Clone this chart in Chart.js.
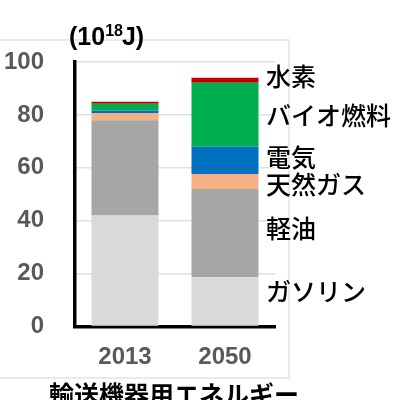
<!DOCTYPE html>
<html>
<head>
<meta charset="utf-8">
<script src="https://cdn.jsdelivr.net/npm/chart.js@4"></script>
<style>
  body { margin: 0; background: #fff; }
  #wrap { width: 395px; height: 400px; }
</style>
</head>
<body>
<div id="wrap"><canvas id="energyChart" width="395" height="400"></canvas></div>
<script>
// 輸送機器用エネルギー (10^18 J)
const years = ['2013', '2050'];
const seriesNames = ['ガソリン', '軽油', '天然ガス', '電気', 'バイオ燃料', '水素'];
const gasoline  = [42.0, 18.6];
const diesel    = [36.0, 33.4];
const naturalGas = [2.7, 5.7];
const electric  = [1.0, 10.3];
const biofuel   = [2.5, 24.2];
const hydrogen  = [0.8, 1.8];
const yTicks = [0, 20, 40, 60, 80, 100];

const colors = ['#d9d9d9', '#a6a6a6', '#f4b183', '#0070c0', '#00b050', '#c00000'];
const values = [gasoline, diesel, naturalGas, electric, biofuel, hydrogen];

const jpFont = '"Noto Sans CJK JP", sans-serif';
const numFont = '"Liberation Sans", Arial, sans-serif';

// nudges (px) so the right-hand labels don't overlap
const labelNudge = [-10, -5, 3, -3, 1, -4];

const decorations = {
    id: 'decorations',
    beforeDraw(chart) {
        const c = chart.ctx;
        c.save();
        c.strokeStyle = '#e3e3e3';
        c.lineWidth = 1.5;
        c.strokeRect(-2, 40, 291, 338);
        c.restore();
    },
    afterDraw(chart) {
        const c = chart.ctx;
        const y = chart.scales.y;
        c.save();
        c.fillStyle = '#000';
        // unit label
        c.textBaseline = 'alphabetic';
        c.font = 'bold 25px ' + numFont;
        c.fillText('(10', 69, 45);
        let w = c.measureText('(10').width;
        c.font = 'bold 16px ' + numFont;
        c.fillText('18', 69 + w, 36);
        let w2 = c.measureText('18').width;
        c.font = 'bold 25px ' + numFont;
        c.fillText('J)', 69 + w + w2 - 1, 45);

        // series labels next to the 2050 bar
        c.font = '500 25px ' + jpFont;
        c.textBaseline = 'middle';
        let cum = 0;
        values.forEach((arr, i) => {
            const v = arr[1];
            const mid = y.getPixelForValue(cum + v / 2);
            cum += v;
            c.fillText(seriesNames[i], 266, mid + labelNudge[i]);
        });

        // bottom title (cut off by the edge)
        c.font = 'bold 25px ' + jpFont;
        c.textAlign = 'center';
        c.textBaseline = 'top';
        c.fillText('輸送機器用エネルギー', 174, 382);
        c.restore();
    }
};

const ctx = document.getElementById('energyChart').getContext('2d');
new Chart(ctx, {
    type: 'bar',
    data: {
        labels: years,
        datasets: values.map((arr, i) => ({
            label: seriesNames[i],
            data: arr,
            backgroundColor: colors[i],
            borderWidth: 0,
            barPercentage: 0.67,
            categoryPercentage: 1
        }))
    },
    options: {
        responsive: false,
        animation: false,
        layout: { padding: { top: 62, right: 120, left: 0, bottom: 0 } },
        plugins: {
            legend: { display: false },
            tooltip: { enabled: false }
        },
        scales: {
            x: {
                stacked: true,
                grid: { display: false, drawTicks: false },
                border: { color: '#000', width: 3.5 },
                ticks: { color: '#595959', padding: 16, font: { family: numFont, size: 24, weight: 'bold' } },
                afterFit: s => { s.height = 73.5; }
            },
            y: {
                stacked: true,
                min: 0,
                max: 100,
                afterBuildTicks: s => { s.ticks = yTicks.map(v => ({ value: v })); },
                grid: { color: '#e0e0e0', lineWidth: 1.5, drawTicks: false },
                border: { color: '#000', width: 3.5 },
                ticks: { color: '#595959', padding: 31, font: { family: numFont, size: 24, weight: 'bold' } },
                afterFit: s => { s.width = 75; }
            }
        }
    },
    plugins: [decorations]
});
</script>
</body>
</html>
